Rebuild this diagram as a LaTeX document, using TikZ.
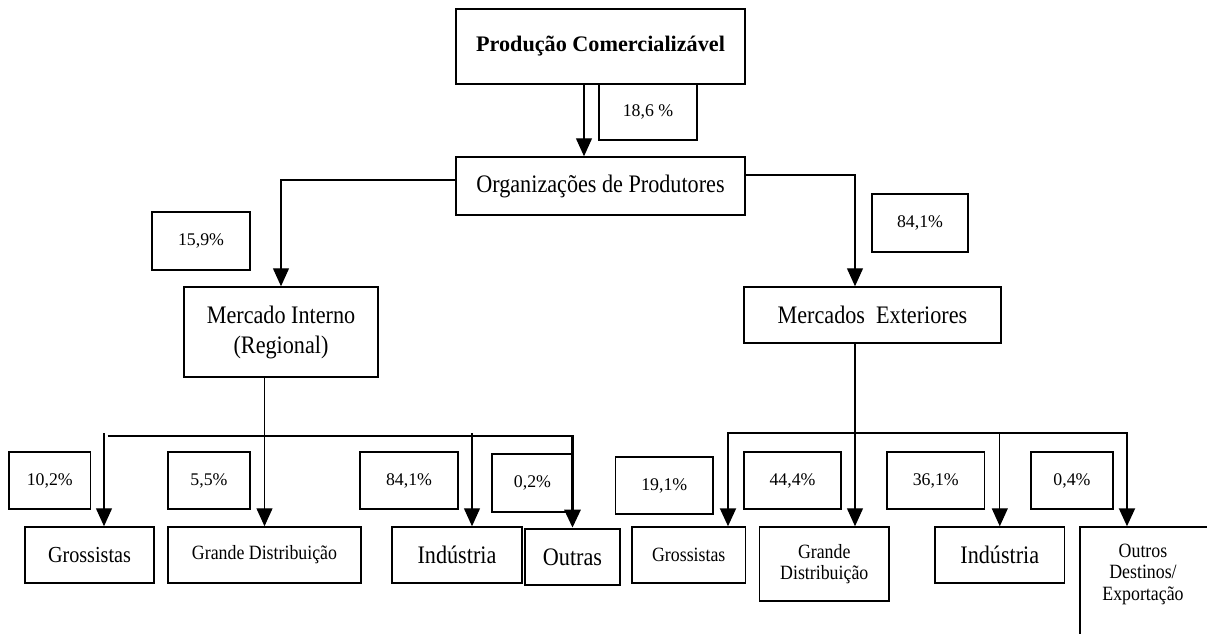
\documentclass[tikz,border=0pt]{standalone}
\usepackage{fontspec}
\setmainfont{Liberation Serif}
\newfontfamily\narrowfont[FakeStretch=0.88]{Liberation Serif}
\usetikzlibrary{arrows.meta}
\tikzset{
  >={Triangle[length=13.5pt,width=12pt]},
  box/.style={draw, line width=1.1pt, inner sep=0pt, align=center, font=\narrowfont\fontsize{18.9}{22.5}\selectfont},
  smallbox/.style={box, font=\narrowfont\fontsize{15.2}{16.1}\selectfont},
  title/.style={box, font=\fontsize{16.65}{22.5}\selectfont\bfseries},
  pct/.style={draw, line width=1.1pt, inner sep=0pt, font=\fontsize{13.35}{16}\selectfont},
  small/.style={font=\narrowfont\fontsize{15.2}{16.1}\selectfont, align=center},
  conn/.style={line width=0.9pt, ->},
}
\begin{document}
\begin{tikzpicture}[x=0.75pt,y=0.75pt,yscale=-1,xscale=1]
\useasboundingbox (0,0) rectangle (1207,633);
\clip (0,0) rectangle (1207,633);

%Top boxes
\node[title, minimum width=216.75pt, minimum height=56.25pt] (prod) at (600.5,46.5) {Produção Comercializável};
\node[pct, minimum width=73.5pt, minimum height=42pt] (p186) at (648,112) {18,6 \%};
\node[box, minimum width=216.75pt, minimum height=43.5pt] (org) at (600.5,186) {Organizações de Produtores};
\node[pct, minimum width=73.5pt, minimum height=43.5pt] (p159) at (201,241) {15,9\%};
\node[pct, minimum width=72pt, minimum height=43.5pt] (p841a) at (920,223) {84,1\%};
\node[box, minimum width=145.5pt, minimum height=67.5pt] (mi) at (281,332) {Mercado Interno\\(Regional)};
\node[box, minimum width=192.75pt, minimum height=42pt] (me) at (872.5,315) {Mercados\ \ Exteriores};

%Left row
\node[pct, minimum width=61.1pt, minimum height=42.75pt] (p102) at (49.75,480.5) {10,2\%};
\node[pct, minimum width=61.5pt, minimum height=42.75pt] (p55) at (209,480.5) {5,5\%};
\node[pct, minimum width=73.5pt, minimum height=42.75pt] (p841b) at (409,480.5) {84,1\%};
\node[pct, minimum width=60.75pt, minimum height=43.5pt] (p02) at (532.5,483) {0,2\%};
\node[box, font=\narrowfont\fontsize{17.2}{20}\selectfont, minimum width=96.75pt, minimum height=42pt] (grl) at (89.5,555) {Grossistas};
\node[smallbox, minimum width=144.75pt, minimum height=42pt] (gdl) at (264.5,555) {Grande Distribuição};
\node[box, minimum width=97.5pt, minimum height=42pt] (indl) at (457,555) {Indústria};
\node[box, line width=2pt, minimum width=71.25pt, minimum height=42pt] (outl) at (572.5,557) {Outras};

%Right row
\node[pct, minimum width=73.1pt, minimum height=42.75pt] (p191) at (664.25,485.5) {19,1\%};
\node[pct, minimum width=72.75pt, minimum height=42.75pt] (p444) at (792.5,480.5) {44,4\%};
\node[pct, minimum width=73.1pt, minimum height=42.75pt] (p361) at (935.75,480.5) {36,1\%};
\node[pct, minimum width=61.5pt, minimum height=42.75pt] (p04) at (1072,480.5) {0,4\%};
\node[smallbox, minimum width=85.1pt, minimum height=42pt] (grr) at (688.75,555) {Grossistas};
\node[smallbox, minimum width=97.1pt, minimum height=55.5pt] (gdr) at (824.25,564) {Grande\\Distribuição};
\node[box, minimum width=97.2pt, minimum height=42pt] (indr) at (999.8,555) {Indústria};
\node[box, minimum width=97.5pt, minimum height=114.75pt] (outr) at (1145,603.5) {};
% Text Node
\node[small] (outrtxt) at (1143,574) {Outros\\Destinos/\\Exportação};

%Connectors
\coordinate (c1) at (584,0);
\coordinate (c2) at (0,180);
\coordinate (c3) at (855,175);
\draw[conn] (prod.south -| c1) -- (org.north -| c1);
\draw[conn] (org.west |- c2) -| (mi.north);
\draw[conn] (org.east |- c3) -| (me.north -| c3);

%Left bus
\coordinate (lb) at (107.5,436);
\coordinate (lg) at (104,433);
\coordinate (li) at (472,433);
\draw[conn] (mi.south -| gdl.north) -- (gdl.north);
\draw[conn, line width=2.2pt] (lb) -| (outl.north);
\draw[conn] (lg) -- (lg |- grl.north);
\draw[conn] (li) -- (li |- indl.north);

%Right bus
\coordinate (rb1) at (728,433);
\coordinate (rb2) at (1127,433);
\draw[conn] (me.south -| c3) -- (gdr.north -| c3);
\draw[conn, <->, line width=1.5pt] (rb1 |- grr.north) |- (rb2) -- (rb2 |- outr.north);
\draw[conn] (indr.north |- rb1) -- (indr.north);

\end{tikzpicture}
\end{document}
